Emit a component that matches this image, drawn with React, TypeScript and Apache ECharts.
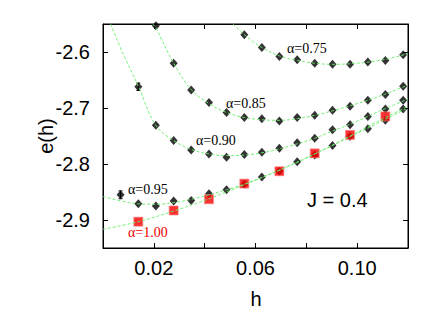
import React, { useEffect, useRef } from "react";
import * as echarts from "echarts";

// h values (x) of the simulation points
const hAll = [0.0069, 0.0139, 0.0208, 0.0278, 0.0347, 0.0417, 0.0486, 0.0556, 0.0625, 0.0694, 0.0764, 0.0833, 0.0903, 0.0972, 0.1042, 0.1111, 0.1181];

// alpha = 0.75 (k = 8..17)
const h075 = [0.0556, 0.0625, 0.0694, 0.0764, 0.0833, 0.0903, 0.0972, 0.1042, 0.1111, 0.1181];
const e075 = [-2.569, -2.592, -2.608, -2.614, -2.620, -2.622, -2.622, -2.618, -2.615, -2.605];

// alpha = 0.85 (k = 3..17)
const h085 = [0.0208, 0.0278, 0.0347, 0.0417, 0.0486, 0.0556, 0.0625, 0.0694, 0.0764, 0.0833, 0.0903, 0.0972, 0.1042, 0.1111, 0.1181];
const e085 = [-2.553, -2.620, -2.668, -2.690, -2.708, -2.717, -2.719, -2.723, -2.717, -2.713, -2.704, -2.697, -2.686, -2.676, -2.661];

// alpha = 0.90 (k = 2..17)
const h090 = [0.0139, 0.0208, 0.0278, 0.0347, 0.0417, 0.0486, 0.0556, 0.0625, 0.0694, 0.0764, 0.0833, 0.0903, 0.0972, 0.1042, 0.1111, 0.1181];
const e090 = [-2.662, -2.731, -2.758, -2.775, -2.782, -2.788, -2.783, -2.779, -2.772, -2.762, -2.754, -2.739, -2.730, -2.715, -2.702, -2.686];

// alpha = 0.95 (k = 1..17)
const h095 = hAll;
const e095 = [-2.855, -2.871, -2.875, -2.866, -2.865, -2.853, -2.846, -2.836, -2.823, -2.813, -2.796, -2.784, -2.767, -2.751, -2.737, -2.722, -2.702];

// alpha = 1.00 (red squares)
const h100 = [0.0139, 0.0278, 0.0417, 0.0556, 0.0694, 0.0833, 0.0972, 0.1111];
const e100 = [-2.903, -2.883, -2.863, -2.835, -2.813, -2.781, -2.748, -2.715];

// error bars [h, low, high]
const errBars = [
  [0.0069, -2.862, -2.848],
  [0.0139, -2.6685, -2.6555],
];

// fitted curves
const fitH075 = [0.0512, 0.0556, 0.0625, 0.0694, 0.0764, 0.0833, 0.0903, 0.0972, 0.1042, 0.1111, 0.12];
const fitE075 = [-2.55, -2.569, -2.592, -2.607, -2.615, -2.620, -2.622, -2.621, -2.618, -2.613, -2.603];
const fitH085 = [0.0196, 0.0208, 0.0278, 0.0347, 0.0417, 0.0486, 0.0556, 0.0625, 0.0694, 0.0764, 0.0833, 0.0903, 0.0972, 0.1042, 0.1111, 0.12];
const fitE085 = [-2.55, -2.557, -2.620, -2.667, -2.692, -2.708, -2.717, -2.721, -2.722, -2.719, -2.713, -2.705, -2.696, -2.686, -2.675, -2.659];
const fitH090 = [0.003, 0.0079, 0.0139, 0.0208, 0.0278, 0.0347, 0.0417, 0.0486, 0.0556, 0.0625, 0.0694, 0.0764, 0.0833, 0.0903, 0.0972, 0.1042, 0.1111, 0.12];
const fitE090 = [-2.55, -2.603, -2.661, -2.731, -2.758, -2.774, -2.782, -2.785, -2.784, -2.780, -2.773, -2.764, -2.754, -2.741, -2.729, -2.715, -2.701, -2.684];
const fitH095 = [0, 0.0069, 0.0139, 0.0208, 0.0278, 0.0347, 0.0417, 0.0486, 0.0556, 0.0625, 0.0694, 0.0764, 0.0833, 0.0903, 0.0972, 0.1042, 0.1111, 0.12];
const fitE095 = [-2.858, -2.866, -2.871, -2.872, -2.869, -2.863, -2.855, -2.846, -2.836, -2.824, -2.811, -2.797, -2.782, -2.767, -2.751, -2.736, -2.720, -2.700];
const fitH100 = [0, 0.0139, 0.0278, 0.0417, 0.0556, 0.0694, 0.0833, 0.0972, 0.1111, 0.12];
const fitE100 = [-2.9166, -2.903, -2.884, -2.862, -2.837, -2.811, -2.782, -2.750, -2.717, -2.697];

// ticks
const xLabelValues = [0.02, 0.06, 0.10];
const xTickValues = [0.02, 0.04, 0.06, 0.08, 0.10];
const yTickValues = [-2.9, -2.8, -2.7, -2.6];

const zip = (xs: number[], ys: number[]) => xs.map((x, i) => [x, ys[i]]);

export default function App() {
  const ref = useRef<HTMLDivElement>(null);
  useEffect(() => {
    if (!ref.current) return;
    const chart = echarts.init(ref.current, null, { renderer: "svg" });
    const sans = "Liberation Sans";
    const serif = "Liberation Serif";
    const green = "#66ee66";
    const fitLine = (h: number[], e: number[]) => ({
      type: "line",
      data: zip(h, e),
      smooth: 0.4,
      showSymbol: false,
      symbol: "none",
      silent: true,
      z: 5,
      lineStyle: { color: green, width: 0.9, type: [3, 2] },
    });
    const diamonds = (h: number[], e: number[]) => ({
      type: "scatter",
      data: zip(h, e),
      symbol: "diamond",
      symbolSize: [8, 9],
      z: 2,
      itemStyle: { color: "#000" },
    });
    const axisCommon = {
      type: "value",
      axisLine: { show: true, onZero: false, lineStyle: { color: "#000", width: 1 } },
      splitLine: { show: false },
    };
    chart.setOption({
      animation: false,
      grid: {
        left: 103,
        right: 35,
        top: 24,
        bottom: 62,
        show: true,
        borderColor: "#000",
        borderWidth: 1,
        backgroundColor: "transparent",
      },
      xAxis: [
        {
          ...axisCommon,
          min: 0,
          max: 0.12,
          interval: 0.02,
          position: "bottom",
          axisTick: { inside: true, length: 5, customValues: xTickValues, lineStyle: { color: "#000" } },
          axisLabel: {
            customValues: xLabelValues,
            formatter: (v: number) => v.toFixed(2),
            fontFamily: sans,
            fontSize: 20,
            color: "#000",
            margin: 10,
          },
        },
        {
          ...axisCommon,
          min: 0,
          max: 0.12,
          interval: 0.02,
          position: "top",
          axisTick: { inside: true, length: 5, customValues: xTickValues, lineStyle: { color: "#000" } },
          axisLabel: { show: false },
        },
      ],
      yAxis: [
        {
          ...axisCommon,
          min: -2.95,
          max: -2.55,
          interval: 0.05,
          position: "left",
          axisTick: { inside: true, length: 5, customValues: yTickValues, lineStyle: { color: "#000" } },
          axisLabel: {
            customValues: yTickValues,
            formatter: (v: number) => v.toFixed(1),
            fontFamily: sans,
            fontSize: 20,
            color: "#000",
            margin: 13,
          },
        },
        {
          ...axisCommon,
          min: -2.95,
          max: -2.55,
          interval: 0.05,
          position: "right",
          axisTick: { inside: true, length: 5, customValues: yTickValues, lineStyle: { color: "#000" } },
          axisLabel: { show: false },
        },
      ],
      series: [
        diamonds(h075, e075),
        diamonds(h085, e085),
        diamonds(h090, e090),
        diamonds(h095, e095),
        {
          type: "scatter",
          data: zip(h100, e100),
          symbol: "rect",
          symbolSize: 9,
          z: 3,
          itemStyle: { color: "#f80000", borderColor: "#ff8080", borderWidth: 0.8 },
        },
        {
          type: "custom",
          data: errBars,
          encode: { x: 0, y: [1, 2] },
          z: 4,
          renderItem: (params: any, api: any) => {
            const lo = api.coord([api.value(0), api.value(1)]);
            const hi = api.coord([api.value(0), api.value(2)]);
            const c = 2;
            const st = { stroke: "#000", lineWidth: 1 };
            return {
              type: "group",
              children: [
                { type: "line", shape: { x1: lo[0], y1: lo[1], x2: hi[0], y2: hi[1] }, style: st },
                { type: "line", shape: { x1: lo[0] - c, y1: lo[1], x2: lo[0] + c, y2: lo[1] }, style: st },
                { type: "line", shape: { x1: hi[0] - c, y1: hi[1], x2: hi[0] + c, y2: hi[1] }, style: st },
              ],
            };
          },
        },
        fitLine(fitH075, fitE075),
        fitLine(fitH085, fitE085),
        fitLine(fitH090, fitE090),
        fitLine(fitH095, fitE095),
        fitLine(fitH100, fitE100),
      ],
      graphic: [
        { type: "text", x: 46, y: 136, rotation: Math.PI / 2, style: { text: "e(h)", font: `20px "${sans}"`, fill: "#000", textAlign: "center", textVerticalAlign: "middle" } },
        { type: "text", x: 256, y: 299, style: { text: "h", font: `20px "${sans}"`, fill: "#000", textAlign: "center", textVerticalAlign: "middle" } },
        { type: "text", x: 307, y: 200, style: { text: "J = 0.4", font: `20px "${sans}"`, fill: "#000", textAlign: "left", textVerticalAlign: "middle" } },
        { type: "text", x: 287, y: 48, style: { text: "α=0.75", font: `14px "${serif}"`, fill: "#000", textAlign: "left", textVerticalAlign: "middle" } },
        { type: "text", x: 226, y: 103, style: { text: "α=0.85", font: `14px "${serif}"`, fill: "#000", textAlign: "left", textVerticalAlign: "middle" } },
        { type: "text", x: 196, y: 140, style: { text: "α=0.90", font: `14px "${serif}"`, fill: "#000", textAlign: "left", textVerticalAlign: "middle" } },
        { type: "text", x: 128, y: 189, style: { text: "α=0.95", font: `14px "${serif}"`, fill: "#000", textAlign: "left", textVerticalAlign: "middle" } },
        { type: "text", x: 128, y: 232, style: { text: "α=1.00", font: `14px "${serif}"`, fill: "#f00000", textAlign: "left", textVerticalAlign: "middle" } },
      ],
    });
    return () => chart.dispose();
  }, []);
  return <div ref={ref} style={{ position: "absolute", left: 0, top: 0, width: 443, height: 310 }} />;
}
